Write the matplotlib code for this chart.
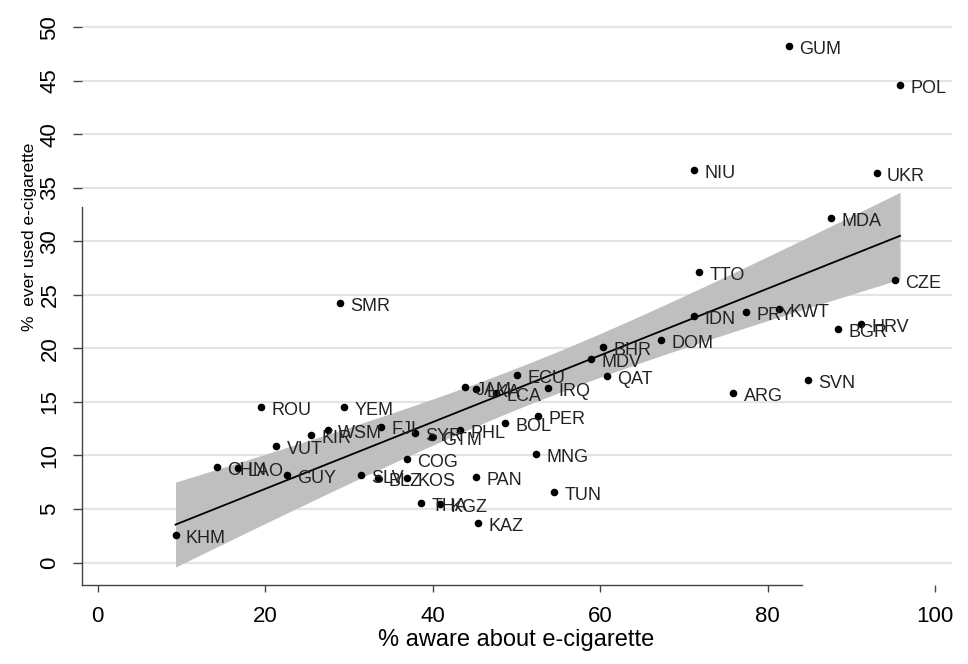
import matplotlib
matplotlib.use('Agg')
import matplotlib.pyplot as plt
import numpy as np

plt.rcParams['font.family'] = ['Liberation Sans', 'DejaVu Sans']

# country codes and the two survey measures
countries = ['GUM', 'POL', 'UKR', 'NIU', 'MDA', 'TTO', 'CZE', 'SMR', 'IDN', 'PRY',
             'KWT', 'HRV', 'BGR', 'DOM', 'BHR', 'MDV', 'ECU', 'QAT', 'SVN', 'IRQ',
             'JAM', 'LKA', 'LCA', 'ARG', 'ROU', 'YEM', 'PER', 'BOL', 'FJI', 'WSM',
             'KIR', 'SYR', 'GTM', 'PHL', 'VUT', 'CHN', 'LAO', 'GUY', 'SLV', 'BLZ',
             'KOS', 'COG', 'PAN', 'MNG', 'TUN', 'THA', 'KGZ', 'KAZ', 'KHM']

aware = [82.5, 95.8, 93.0, 71.2, 87.6, 71.8, 95.2, 28.9, 71.2, 77.4,
         81.3, 91.1, 88.4, 67.3, 60.3, 58.9, 50.1, 60.8, 84.8, 53.8,
         43.9, 45.2, 47.6, 75.9, 19.5, 29.4, 52.6, 48.6, 33.8, 27.5,
         25.5, 37.9, 39.9, 43.3, 21.3, 14.2, 16.7, 22.6, 31.4, 33.5,
         36.9, 36.9, 45.2, 52.3, 54.5, 38.6, 40.9, 45.4, 9.3]

ever_used = [48.25, 44.6, 36.4, 36.65, 32.2, 27.1, 26.4, 24.2, 23.0, 23.4,
             23.7, 22.3, 21.8, 20.8, 20.1, 19.0, 17.5, 17.4, 17.0, 16.3,
             16.4, 16.2, 15.85, 15.85, 14.5, 14.55, 13.7, 13.0, 12.7, 12.4,
             11.9, 12.1, 11.7, 12.4, 10.9, 8.9, 8.8, 8.2, 8.2, 7.9,
             7.9, 9.7, 8.0, 10.1, 6.6, 5.6, 5.5, 3.7, 2.6]

x = np.array(aware)
y = np.array(ever_used)

# linear fit with 95% confidence band of the mean
b, a = np.polyfit(x, y, 1)
n = len(x)
resid = y - (a + b * x)
s = np.sqrt(np.sum(resid ** 2) / (n - 2))
sxx = np.sum((x - x.mean()) ** 2)
xf = np.linspace(x.min(), x.max(), 200)
yf = a + b * xf
se = s * np.sqrt(1.0 / n + (xf - x.mean()) ** 2 / sxx)
t = 2.012

fig = plt.figure(figsize=(9.68, 6.64), dpi=100)
ax = fig.add_axes([82 / 968, 79 / 664, 870 / 968, 575 / 664])

ax.fill_between(xf, yf - t * se, yf + t * se, color='#bfbfbf', linewidth=0, zorder=2)
ax.plot(xf, yf, color='black', linewidth=1.3, zorder=3)
ax.scatter(x, y, s=30, color='black', zorder=4, linewidths=0)

for name, xi, yi in zip(countries, aware, ever_used):
    ax.annotate(name, (xi, yi), xytext=(7.5, -2.5), textcoords='offset points',
                ha='left', va='center', fontsize=13, color='#222222', zorder=5)

ax.set_xlim(-1.87, 102.0)
ax.set_ylim(-2.1, 51.6)
ax.set_xticks([0, 20, 40, 60, 80, 100])
ax.set_yticks(np.arange(0, 51, 5))

ax.grid(axis='y', color='#e4e4e4', linewidth=1.5)
ax.set_axisbelow(True)

for side in ['top', 'right']:
    ax.spines[side].set_visible(False)
ax.spines['left'].set_bounds(-2.1, 33.2)
ax.spines['bottom'].set_bounds(-1.87, 84.1)
for side in ['left', 'bottom']:
    ax.spines[side].set_color('#444444')
    ax.spines[side].set_linewidth(1.0)

ax.tick_params(axis='x', length=5, width=1, color='#444444', pad=10, labelsize=16)
ax.tick_params(axis='y', length=6.5, width=1, color='#444444', pad=9, labelsize=16)
for lab in ax.get_yticklabels():
    lab.set_rotation(90)
    lab.set_va('center')

ax.set_xlabel('% aware about e-cigarette', fontsize=17)
ax.set_ylabel('%  ever used e-cigarette', fontsize=12.5)
ax.xaxis.set_label_coords(0.499, -0.077)
ax.yaxis.set_label_coords(-0.052, 0.605)

fig.savefig('out.png', dpi=100)
